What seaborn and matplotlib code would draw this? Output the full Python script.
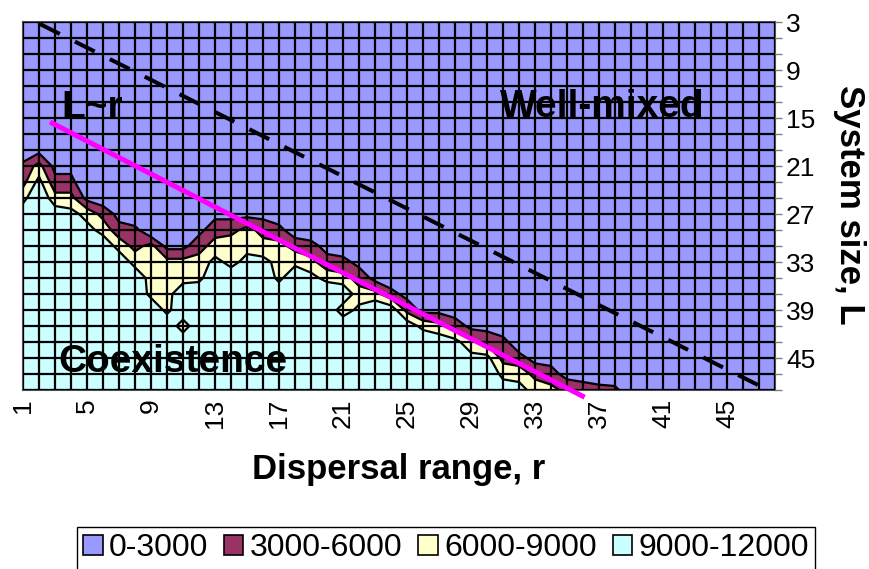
import matplotlib
matplotlib.use("Agg")
import matplotlib.pyplot as plt
import numpy as np
import seaborn as sns
from matplotlib.patches import Patch

# dispersal range r (columns) and system size L (rows)
R_VALUES = [1, 2, 3, 4, 5, 6, 7, 8, 9, 10, 11, 12, 13, 14, 15, 16,
            17, 18, 19, 20, 21, 22, 23, 24, 25, 26, 27, 28, 29, 30, 31, 32,
            33, 34, 35, 36, 37, 38, 39, 40, 41, 42, 43, 44, 45, 46, 47, 48]
L_VALUES = [3, 5, 7, 9, 11, 13, 15, 17, 19, 21, 23, 25,
            27, 29, 31, 33, 35, 37, 39, 41, 43, 45, 47, 49]
R_LABELLED = [1, 5, 9, 13, 17, 21, 25, 29, 33, 37, 41, 45]
L_LABELLED = [3, 9, 15, 21, 27, 33, 39, 45]

# surface values in thousands (hex digit, c = 12), one string per r,
# read down the column from L=3 to L=49
COLS = [
    "0" * 9 + "458b" + "c" * 11,     # r=1
    "0" * 8 + "27a" + "c" * 13,
    "0" * 9 + "247b" + "c" * 11,
    "0" * 9 + "247a" + "c" * 11,
    "0" * 11 + "28a" + "c" * 10,     # r=5
    "0" * 11 + "158b" + "c" * 9,
    "0" * 12 + "248b" + "c" * 8,
    "0" * 13 + "458b" + "c" * 7,
    "0" * 14 + "7788" + "c" * 6,
    "0" * 14 + "27788" + "c" * 5,    # r=10
    "0" * 14 + "278bc7" + "c" * 4,
    "0" * 13 + "2578" + "c" * 7,
    "0" * 12 + "257a" + "c" * 8,
    "0" * 12 + "2588b" + "c" * 7,
    "0" * 12 + "278a" + "c" * 8,     # r=15
    "0" * 12 + "257a" + "c" * 8,
    "0" * 12 + "14788" + "c" * 7,
    "0" * 13 + "158" + "c" * 8,
    "0" * 13 + "147a" + "c" * 7,
    "0" * 14 + "248" + "c" * 7,      # r=20
    "0" * 14 + "147c7" + "c" * 5,
    "0" * 15 + "257a" + "c" * 5,
    "0" * 16 + "27" + "c" * 6,
    "0" * 16 + "14b" + "c" * 5,
    "0" * 17 + "25b" + "c" * 4,      # r=25
    "0" * 18 + "28" + "c" * 4,
    "0" * 18 + "27b" + "c" * 3,
    "0" * 18 + "15a" + "c" * 3,
    "0" * 19 + "27a" + "c" * 2,
    "0" * 19 + "25a" + "c" * 2,      # r=30
    "0" * 19 + "1458b",
    "0" * 20 + "148a",
    "0" * 21 + "258",
    "0" * 21 + "247",
    "0" * 21 + "125",                # r=35
    "0" * 22 + "24",
    "0" * 22 + "14",
    "0" * 23 + "4",
] + ["0" * 24] * 10                  # r=39..48

LEVELS = [0, 3000, 6000, 9000, 12000]
BAND_LABELS = ["0-3000", "3000-6000", "6000-9000", "9000-12000"]
BAND_COLORS = ["#9999FF", "#993366", "#FFFFCC", "#CCFFFF"]

# reference lines (r, L)
LR_LINE_R = [2.69, 36.1]
LR_LINE_L = [15.5, 49.9]
MIX_LINE_R = [2.06, 47.56]
MIX_LINE_L = [3.25, 49.0]

assert all(len(c) == len(L_VALUES) for c in COLS) and len(COLS) == len(R_VALUES)
Z = np.array([[int(ch, 16) * 1000 for ch in col] for col in COLS]).T

sns.set_style("white")
plt.rcParams["font.family"] = ["Liberation Sans", "DejaVu Sans"]
plt.rcParams["text.color"] = "black"
plt.rcParams["xtick.color"] = "black"
plt.rcParams["ytick.color"] = "black"

fig = plt.figure(figsize=(8.7, 5.69), dpi=100)
ax = fig.add_axes([23 / 870, 1 - 390 / 569, 752 / 870, 368 / 569])

ax.contourf(R_VALUES, L_VALUES, Z, levels=LEVELS, colors=BAND_COLORS, zorder=1)
ax.contour(R_VALUES, L_VALUES, Z, levels=LEVELS[1:-1], colors="black",
           linewidths=1.6, zorder=2)

ax.set_xlim(R_VALUES[0], R_VALUES[-1])
ax.set_ylim(L_VALUES[-1], L_VALUES[0])

ax.set_xticks(R_VALUES)
ax.set_xticklabels([str(r) if r in R_LABELLED else "" for r in R_VALUES],
                   rotation=90)
ax.yaxis.tick_right()
ax.set_yticks(L_VALUES)
ax.set_yticklabels([str(v) if v in L_LABELLED else "" for v in L_VALUES])

ax.grid(True, color="black", linewidth=1.6)
ax.set_axisbelow(False)
ax.tick_params(axis="x", length=0, pad=6, labelsize=19, labelcolor="black")
ax.tick_params(axis="y", right=True, left=False, length=5, width=1,
               color="0.5", labelsize=19, labelcolor="black", pad=3)
for sp in ax.spines.values():
    sp.set_color("0.3")
    sp.set_linewidth(1.5)

ax.plot(LR_LINE_R, LR_LINE_L, color="#FF00FF", lw=3.6, zorder=4,
        clip_on=False, solid_capstyle="butt")
ax.plot(MIX_LINE_R, MIX_LINE_L, color="black", lw=2.9, zorder=4,
        dashes=(5.5, 4.2))

note_kw = dict(fontsize=28, fontweight="bold", color="black", ha="center",
               va="center", zorder=5)
ax.text(5.3, 13.75, "L~r", **note_kw)
ax.text(37.2, 13.6, "Well-mixed", **note_kw)
ax.text(10.4, 45.5, "Coexistence", **note_kw)

fig.text(399 / 870, 1 - 470 / 569, "Dispersal range, r", fontsize=25,
         fontweight="bold", ha="center", va="center", color="black")
fig.text(850 / 870, 1 - 205 / 569, "System size, L", fontsize=25,
         fontweight="bold", ha="center", va="center", rotation=-90,
         color="black")

handles = [Patch(facecolor=c, edgecolor="black", linewidth=1.2, label=l)
           for c, l in zip(BAND_COLORS, BAND_LABELS)]
leg = fig.legend(handles=handles, ncol=4, loc="upper center",
                 bbox_to_anchor=(446 / 870, 1 - 527 / 569), fontsize=23,
                 frameon=True, fancybox=False, edgecolor="black",
                 framealpha=1, handlelength=0.6, handleheight=0.6,
                 handletextpad=0.2, columnspacing=0.5, borderpad=0.2,
                 borderaxespad=0)
leg.get_frame().set_linewidth(1)

fig.savefig("out.png", dpi=100)
